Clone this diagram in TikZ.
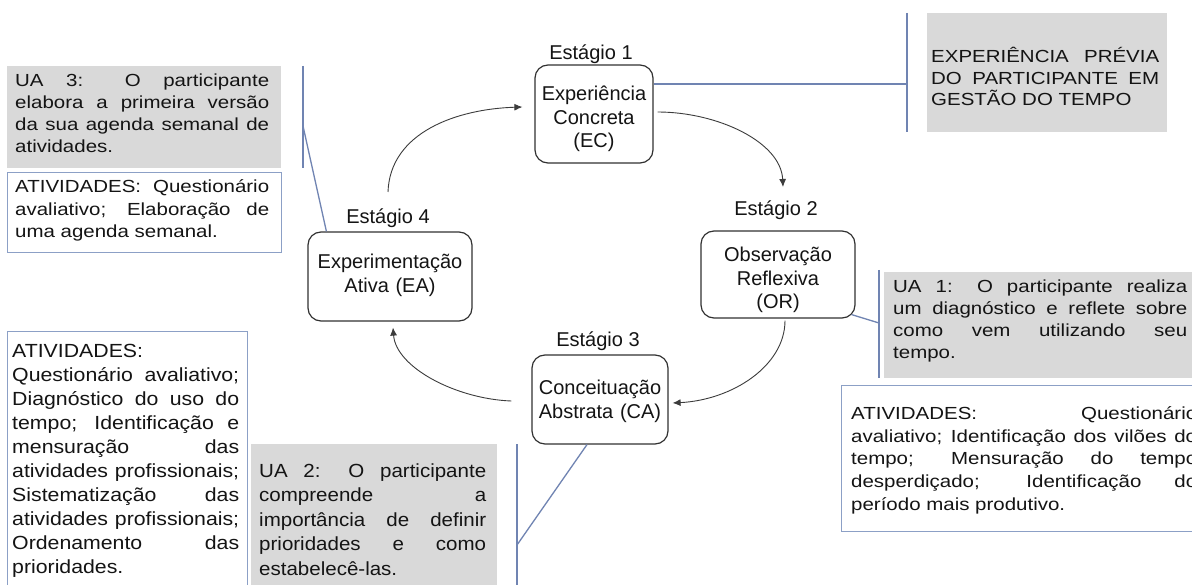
\documentclass[tikz,border=0pt]{standalone}
\usepackage{fontspec}
\setmainfont{Liberation Sans}
\newfontfamily\boxfont[FakeStretch=1.17]{Liberation Sans}
\newfontfamily\boxfontb[FakeStretch=1.08]{Liberation Sans}
\newfontfamily\boxfontc[FakeStretch=1.12]{Liberation Sans}
\usetikzlibrary{arrows.meta}

\definecolor{boxgray}{RGB}{217,217,217}
\definecolor{boxline}{RGB}{140,160,198}
\definecolor{calloutblue}{RGB}{112,132,178}
\definecolor{stageline}{RGB}{50,50,50}
\definecolor{arrowgray}{RGB}{60,60,60}
\definecolor{inkblack}{RGB}{20,20,20}

\newcommand{\boxA}[1]{\fontsize{17.5}{#1}\boxfont\hyphenpenalty=10000\tolerance=10000\relax}
\newcommand{\boxB}[1]{\fontsize{19}{#1}\boxfontb\hyphenpenalty=10000\tolerance=10000\relax}
\newcommand{\boxC}[1]{\fontsize{19}{#1}\boxfontc\hyphenpenalty=10000\tolerance=10000\relax}

\tikzset{
  stagebox/.style={draw=stageline, line width=1.2pt, rounded corners=13pt, inner sep=0pt},
  stagetext/.style={anchor=base, inner sep=0pt, align=center, text=inkblack,
    font=\fontsize{20}{23.5}\selectfont},
  stagelabel/.style={anchor=base, inner sep=0pt, text=inkblack, font=\fontsize{20}{24}\selectfont},
  graybox/.style={fill=boxgray, inner sep=0pt, anchor=north west},
  whitebox/.style={draw=boxline, line width=1.3pt, fill=white, inner sep=0pt, anchor=north west},
  boxtext/.style={anchor=base west, inner sep=0pt, align=justify, text=inkblack},
  cycle arrow/.style={draw=arrowgray, line width=0.9pt, -{Latex[length=8pt,width=7pt]}},
  callout/.style={draw=calloutblue, line width=1.3pt},
}

\begin{document}
\begin{tikzpicture}[x=1pt, y=-1pt]
  \useasboundingbox (0,0) rectangle (1192,585);
  \clip (0,0) rectangle (1192,585);
  \fill[white] (0,0) rectangle (1192,585);

  % the four stages of the learning cycle
  \node[stagebox, minimum width=118pt, minimum height=98pt] (ec) at (594,114) {};
  \node[stagebox, minimum width=154pt, minimum height=87pt] (or) at (778,274.5) {};
  \node[stagebox, minimum width=136pt, minimum height=89pt] (ca) at (600,399.5) {};
  \node[stagebox, minimum width=164pt, minimum height=89pt] (ea) at (390,276.5) {};

  \node[stagetext, text width=118pt] (ectext) at (594,101) {Experiência\\Concreta\\(EC)};
  \node[stagetext, text width=154pt] (ortext) at (778,262) {Observação\\Reflexiva\\(OR)};
  \node[stagetext, text width=136pt] (catext) at (600,395) {Conceituação\\Abstrata (CA)};
  \node[stagetext, text width=164pt] (eatext) at (390,269) {Experimentação\\Ativa (EA)};

  \node[stagelabel] (st1) at (591,60) {Estágio 1};
  \node[stagelabel] (st2) at (776,216) {Estágio 2};
  \node[stagelabel] (st3) at (598,347) {Estágio 3};
  \node[stagelabel] (st4) at (388,224) {Estágio 4};

  % cycle arrows
  \draw[cycle arrow] ([yshift=32pt]st4.base) .. controls +(2,-60) and +(-65,2) .. ([xshift=-12pt,yshift=7pt]ec.west);
  \draw[cycle arrow] ([xshift=4pt,yshift=2pt]ec.east) .. controls +(60,0) and +(-2,-45) .. ([xshift=7pt,yshift=29pt]st2.base);
  \draw[cycle arrow] ([xshift=7pt,yshift=-2pt]or.south) .. controls +(0,45) and +(60,-3) .. ([xshift=4pt,yshift=-3.5pt]ca.east);
  \draw[cycle arrow] ([xshift=-20pt,yshift=-1.5pt]ca.west) .. controls +(-55,-2) and +(3,40) .. ([xshift=3pt,yshift=-6pt]ea.south);

  % prior experience
  \node[graybox, minimum width=240pt, minimum height=119pt] (exp) at (927,13) {};
  \node[boxtext, text width=228pt, font={\boxA{21.5}}] (exptext) at (931,63)
    {EXPERIÊNCIA PRÉVIA\linebreak DO PARTICIPANTE EM\linebreak GESTÃO DO TEMPO};
  \coordinate (bxtop) at (907,13);
  \coordinate (bxbot) at (907,132);
  \coordinate (bxmid) at (907,84);
  \draw[callout] (bxtop) -- (bxbot);
  \draw[callout] (ec.east |- bxmid) -- (bxmid);

  % UA 3
  \node[graybox, minimum width=274pt, minimum height=102pt] (ua3) at (7,66) {};
  \node[boxtext, text width=254pt, font={\boxA{22}}] (ua3text) at (15,87)
    {UA 3: O participante\linebreak elabora a primeira versão\linebreak da sua agenda semanal de\linebreak atividades.};
  \node[whitebox, minimum width=274pt, minimum height=80pt] (act3) at (7,172) {};
  \node[boxtext, text width=254pt, font={\boxA{22.5}}] (act3text) at (15,193)
    {ATIVIDADES: Questionário\linebreak avaliativo; Elaboração de\linebreak uma agenda semanal.};
  \coordinate (b3top) at (303,66);
  \coordinate (b3bot) at (303,168);
  \coordinate (b3mid) at (303,126);
  \draw[callout] (b3top) -- (b3bot);
  \draw[callout] (b3mid) -- ([xshift=19pt]ea.north west);

  % UA 1
  \node[graybox, minimum width=320pt, minimum height=106pt] (ua1) at (884,272) {};
  \node[boxtext, text width=294pt, font={\boxA{21.7}}] (ua1text) at (893,293)
    {UA 1: O participante realiza\linebreak um diagnóstico e reflete sobre\linebreak como vem utilizando seu\linebreak tempo.};
  \node[whitebox, minimum width=370pt, minimum height=146pt] (act1) at (841,385) {};
  \node[boxtext, text width=346pt, font={\boxA{23}}] (act1text) at (851,419)
    {ATIVIDADES: Questionário\linebreak avaliativo; Identificação dos vilões do\linebreak tempo; Mensuração do tempo\linebreak desperdiçado; Identificação do\linebreak período mais produtivo.};
  \coordinate (b1top) at (879,270);
  \coordinate (b1bot) at (879,378);
  \coordinate (b1mid) at (879,323);
  \draw[callout] (b1top) -- (b1bot);
  \draw[callout] ([xshift=-4pt,yshift=4pt]or.south east) -- (b1mid);

  % activities of UA 2
  \node[whitebox, minimum width=240pt, minimum height=280pt] (act2) at (7,331) {};
  \node[boxtext, text width=227pt, font={\boxC{23.9}}] (act2text) at (12,358)
    {ATIVIDADES:\\ Questionário avaliativo;\linebreak Diagnóstico do uso do\linebreak tempo; Identificação e\linebreak mensuração das\linebreak atividades profissionais;\linebreak Sistematização das\linebreak atividades profissionais;\linebreak Ordenamento das\linebreak prioridades.};

  % UA 2
  \node[graybox, minimum width=246pt, minimum height=160pt] (ua2) at (251,444) {};
  \node[boxtext, text width=227pt, font={\boxB{24.5}}] (ua2text) at (259,477)
    {UA 2: O participante\linebreak compreende a\linebreak importância de definir\linebreak prioridades e como\linebreak estabelecê-las.};
  \coordinate (b2top) at (517,444);
  \coordinate (b2bot) at (517,600);
  \coordinate (b2mid) at (517,545);
  \draw[callout] (b2top) -- (b2bot);
  \draw[callout] ([xshift=-13pt]ca.south) -- (b2mid);
\end{tikzpicture}
\end{document}
